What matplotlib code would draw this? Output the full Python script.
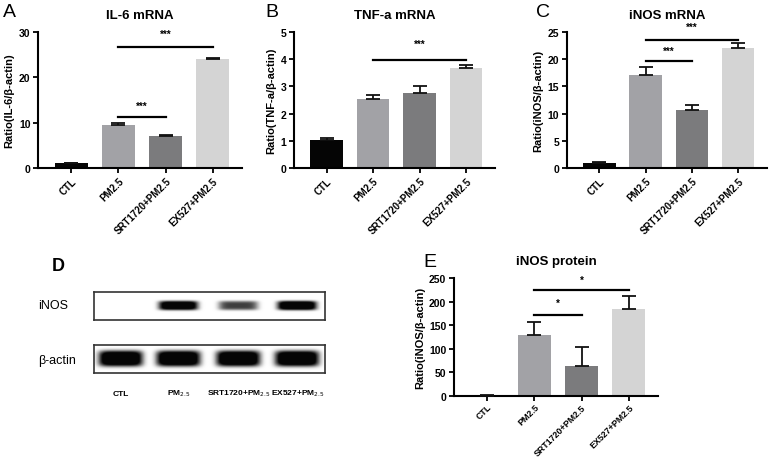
import matplotlib
matplotlib.use('Agg')
import matplotlib.pyplot as plt
import numpy as np

plt.rcParams['font.family'] = ['Liberation Sans', 'DejaVu Sans']

# ==================== 数据 ====================
groups = ['CTL', 'PM2.5', 'SRT1720+PM2.5', 'EX527+PM2.5']
bar_colors = ['#050505', '#a2a2a6', '#7b7b7d', '#d4d4d4']

il6_mean = [1.0, 9.5, 7.0, 24.0]
il6_err = [0.15, 0.35, 0.3, 0.3]

tnf_mean = [1.02, 2.52, 2.77, 3.67]
tnf_err = [0.07, 0.15, 0.26, 0.13]

inos_mean = [1.0, 17.1, 10.7, 22.0]
inos_err = [0.15, 1.5, 0.85, 0.9]

prot_mean = [1.0, 129, 63, 185]
prot_err = [0.5, 27, 41, 27]

# 显著性标记: (起始组, 结束组, 高度, 文字高度, 文字)
il6_sig = [(1, 2, 11.3, 13.6, '***'), (1, 3, 26.7, 29.6, '***')]
tnf_sig = [(1, 3, 3.98, 4.55, '***')]
inos_sig = [(1, 2, 19.7, 21.6, '***'), (1, 3, 23.5, 26.0, '***')]
prot_sig = [(1, 2, 171, 197, '*'), (1, 3, 225, 247, '*')]

# Western blot 条带强度
blot_lanes = ['CTL', 'PM$_{2.5}$', 'SRT1720+PM$_{2.5}$', 'EX527+PM$_{2.5}$']
inos_band = [0.0, 0.95, 0.55, 1.0]
actin_band = [1.0, 1.0, 1.0, 1.0]

fig = plt.figure(figsize=(7.73, 4.60), dpi=100)


def bar_panel(rect, mean, err, sig, ymax, ystep, title, ylabel, letter, letter_xy,
              xfs=7, xpad=2):
    ax = fig.add_axes(rect)
    x = np.arange(len(groups))
    ax.bar(x, mean, width=0.7, color=bar_colors, zorder=2)
    ax.errorbar(x, mean, yerr=[np.zeros(len(err)), err], fmt='none',
                ecolor='#111111', elinewidth=1.3, capsize=5, capthick=1.3, zorder=3)
    for i0, i1, h, th, s in sig:
        ax.plot([x[i0], x[i1]], [h, h], color='black', lw=1.6, clip_on=False)
        ax.text((x[i0] + x[i1]) / 2, th, s, ha='center', va='center',
                fontsize=7, fontweight='bold', clip_on=False)
    ax.set_xlim(-0.7, 3.62)
    ax.set_ylim(0, ymax)
    ax.set_yticks(np.arange(0, ymax + 0.01, ystep))
    ax.set_xticks(x)
    ax.set_xticklabels(groups, rotation=45, ha='right', rotation_mode='anchor',
                       fontsize=xfs, fontweight='bold')
    for lab in ax.get_yticklabels():
        lab.set_fontweight('bold')
    ax.tick_params(axis='y', labelsize=7.5, width=1.3, length=3.5, pad=2)
    ax.tick_params(axis='x', width=1.3, length=3.5, pad=xpad)
    for sp in ['top', 'right']:
        ax.spines[sp].set_visible(False)
    for sp in ['left', 'bottom']:
        ax.spines[sp].set_linewidth(1.5)
    ax.set_ylabel(ylabel, fontsize=8, fontweight='bold', labelpad=3)
    ax.set_title(title, fontsize=9.5, fontweight='bold', pad=10)
    fig.text(letter_xy[0], letter_xy[1], letter, fontsize=14, ha='left', va='center')
    return ax


bar_panel([0.0492, 0.6326, 0.264, 0.2957], il6_mean, il6_err, il6_sig, 30, 10,
          'IL-6 mRNA', 'Ratio(IL-6/β-actin)', 'A', (0.004, 0.972))
bar_panel([0.3803, 0.6326, 0.260, 0.2957], tnf_mean, tnf_err, tnf_sig, 5, 1,
          'TNF-a mRNA', 'Ratio(TNF-a/β-actin)', 'B', (0.343, 0.972))
bar_panel([0.7335, 0.6326, 0.2587, 0.2957], inos_mean, inos_err, inos_sig, 25, 5,
          'iNOS mRNA', 'Ratio(iNOS/β-actin)', 'C', (0.694, 0.972))
bar_panel([0.5873, 0.137, 0.264, 0.2565], prot_mean, prot_err, prot_sig, 250, 50,
          'iNOS protein', 'Ratio(iNOS/β-actin)', 'E', (0.548, 0.430),
          xfs=6.4, xpad=1)

# ==================== Western blot (D) ====================
lane_pos = [0.115, 0.365, 0.625, 0.88]


def blot_strip(rect, levels, half_w, half_h):
    ax = fig.add_axes(rect)
    xx = np.linspace(0, 1, 400)
    yy = np.linspace(-1, 1, 60)
    X, Y = np.meshgrid(xx, yy)
    img = np.zeros_like(X)
    for c, lv in zip(lane_pos, levels):
        prof_x = np.exp(-((X - c) / half_w) ** 6)
        prof_y = np.exp(-(Y / half_h) ** 4)
        img += lv * prof_x * prof_y
    img = np.clip(img * 1.4, 0, 1)
    ax.imshow(img, cmap='gray_r', vmin=0, vmax=1.02, aspect='auto',
              extent=[0, 1, 0, 1], interpolation='bilinear')
    ax.set_xticks([])
    ax.set_yticks([])
    for sp in ax.spines.values():
        sp.set_linewidth(1.2)
        sp.set_color('#333333')
    return ax


blot_strip([0.1216, 0.302, 0.2988, 0.0609], inos_band, 0.085, 0.32)
blot_strip([0.1216, 0.187, 0.2988, 0.0609], actin_band, 0.095, 0.55)

fig.text(0.049, 0.335, 'iNOS', fontsize=9, ha='left', va='center')
fig.text(0.049, 0.215, 'β-actin', fontsize=9, ha='left', va='center')
for c, lab in zip(lane_pos, blot_lanes):
    fig.text(0.1216 + c * 0.2988, 0.143, lab, fontsize=6, fontweight='bold',
             ha='center', va='center')
fig.text(0.067, 0.421, 'D', fontsize=13, fontweight='bold', ha='left', va='center')

plt.savefig('out.png', dpi=100, facecolor='white')
